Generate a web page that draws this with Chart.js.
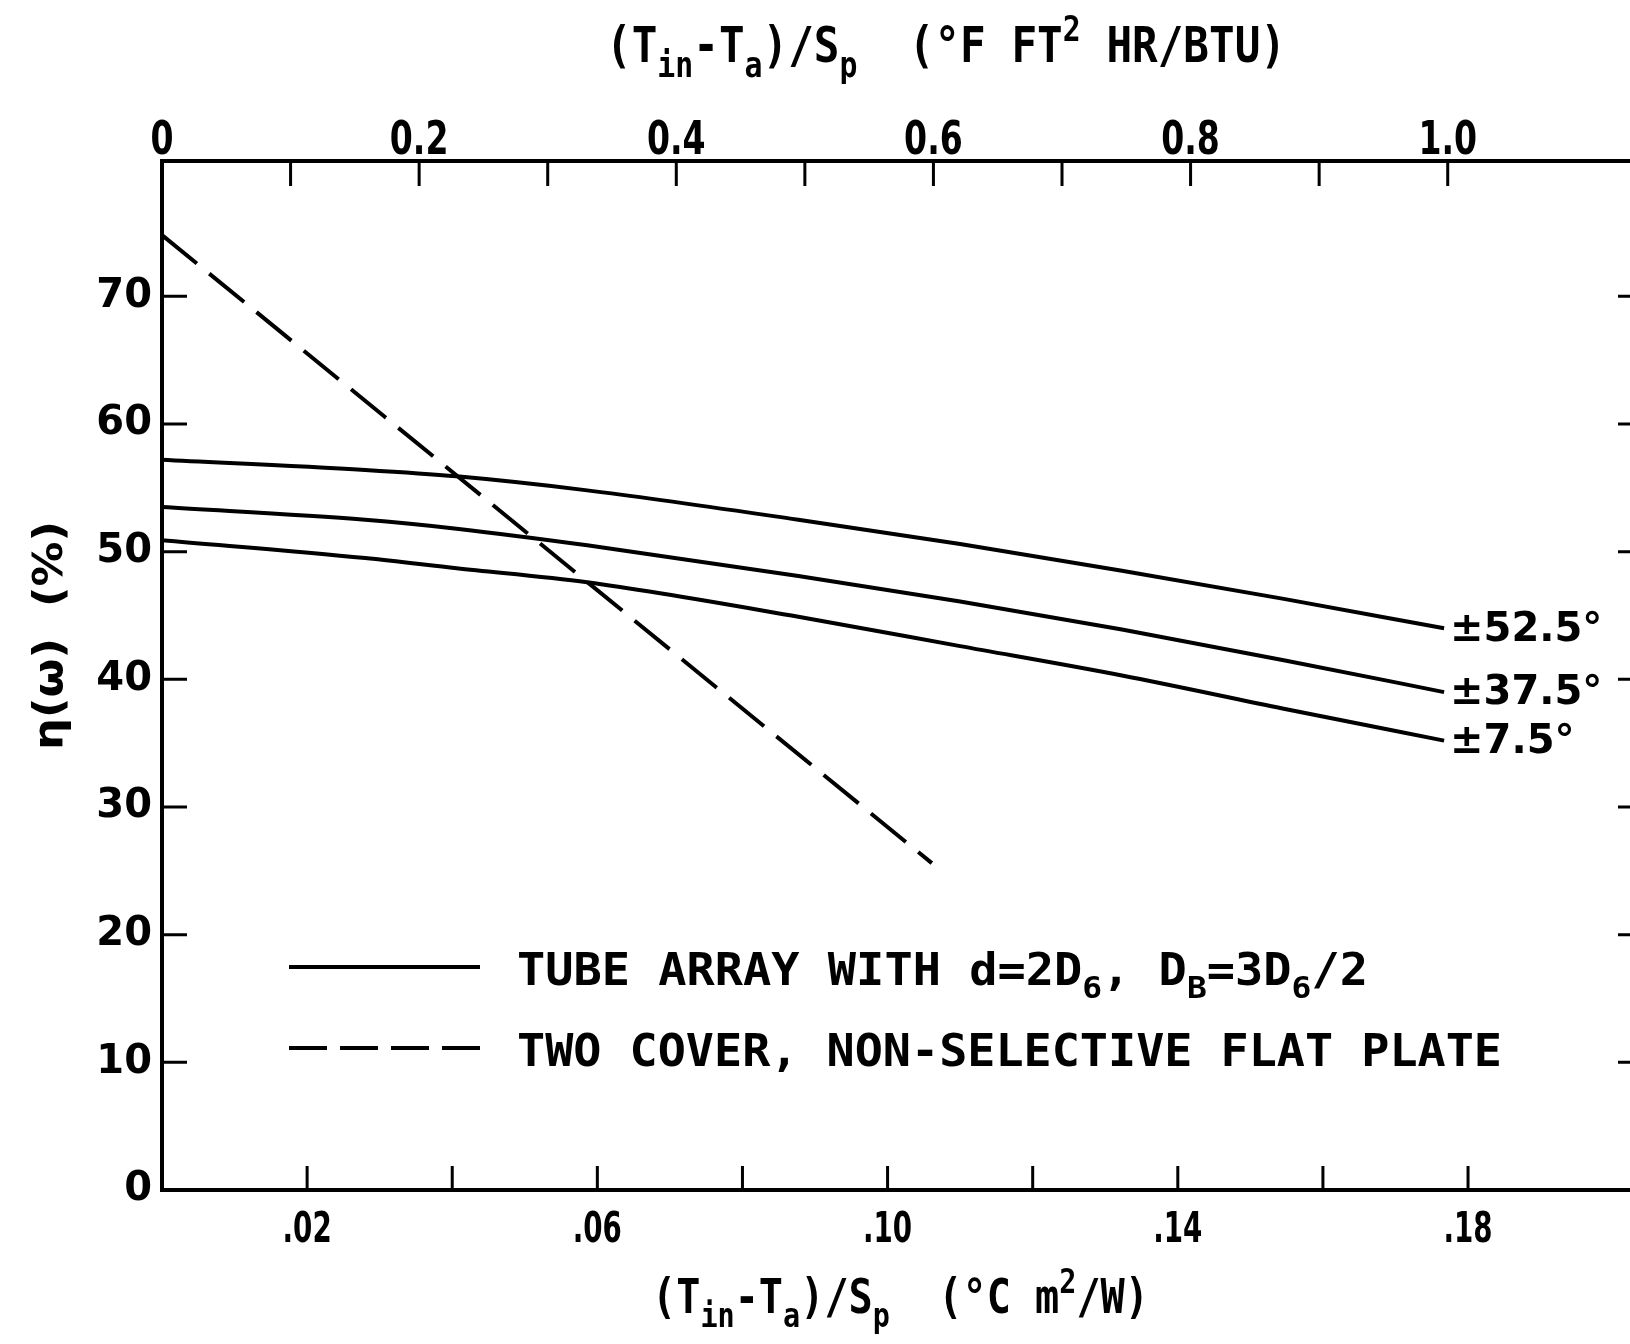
<!DOCTYPE html>
<html>
<head>
<meta charset="utf-8">
<script src="https://cdn.jsdelivr.net/npm/chart.js@4.4.0/dist/chart.umd.min.js"></script>
<style>
  html, body { margin: 0; padding: 0; background: #fff; overflow: hidden; }
  canvas { display: block; }
</style>
</head>
<body>
<canvas id="chart" width="1660" height="1344"></canvas>
<script>
// tube array curves, x in °C m²/W, y in %
const xTube = [0, 0.028, 0.0406, 0.0586, 0.0877, 0.110, 0.1323, 0.1546, 0.1767];
const eta52 = [57.2, 56.4, 55.9, 54.8, 52.5, 50.6, 48.5, 46.3, 44.0];
const eta37 = [53.5, 52.5, 51.8, 50.5, 48.1, 46.1, 43.9, 41.5, 39.0];
const eta7 = [50.9, 49.5, 48.7, 47.6, 44.9, 42.6, 40.3, 37.7, 35.2];
const curveLabels = ['±52.5°', '±37.5°', '±7.5°'];

// two cover flat plate (dashed)
const xFlat = [0, 0.1061];
const etaFlat = [74.8, 25.6];

// axes
const yTicks = [0, 10, 20, 30, 40, 50, 60, 70];
const bottomTicks = [0.02, 0.04, 0.06, 0.08, 0.10, 0.12, 0.14, 0.16, 0.18];
const bottomLabelVals = [0.02, 0.06, 0.10, 0.14, 0.18];
const bottomLabelText = ['.02', '.06', '.10', '.14', '.18'];
const topTicks = [0.1, 0.2, 0.3, 0.4, 0.5, 0.6, 0.7, 0.8, 0.9, 1.0];
const topLabelVals = [0, 0.2, 0.4, 0.6, 0.8, 1.0];
const topLabelText = ['0', '0.2', '0.4', '0.6', '0.8', '1.0'];

const X_MAX = 0.2037;
const SI_PER_IMPERIAL = 0.1772; // 1 °F ft² hr/BTU in °C m²/W (as drawn)
const Y_MAX = 80.6;

const SANS = '"DejaVu Sans", sans-serif';
const MONO = '"DejaVu Sans Mono", monospace';

// parts = [[text, kind], ...], kind '' | 'sub' | 'sup'; squeezed to width
function drawRich(ctx, parts, x, y, size, width, family) {
  const fontFor = k => 'bold ' + (k ? Math.round(size * 0.7) : size) + 'px ' + family;
  let natural = 0;
  parts.forEach(([t, k]) => { ctx.font = fontFor(k); natural += ctx.measureText(t).width; });
  const sx = width ? width / natural : 1;
  ctx.save();
  ctx.translate(x, y);
  ctx.scale(sx, 1);
  let px = 0;
  parts.forEach(([t, k]) => {
    ctx.font = fontFor(k);
    const dy = k === 'sub' ? size * 0.3 : k === 'sup' ? -size * 0.42 : 0;
    ctx.fillText(t, px, dy);
    px += ctx.measureText(t).width;
  });
  ctx.restore();
}

const overlay = {
  id: 'overlay',
  afterDraw(chart) {
    const { ctx, chartArea: a, scales } = chart;
    const xs = scales.x, xt = scales.xTop, ys = scales.y;
    ctx.save();
    ctx.strokeStyle = '#000';
    ctx.fillStyle = '#000';
    ctx.textAlign = 'left';
    ctx.textBaseline = 'alphabetic';

    // inward tick marks
    ctx.lineWidth = 3;
    ctx.beginPath();
    ys.ticks.forEach(t => {
      if (t.value === 0) return;
      const p = ys.getPixelForValue(t.value);
      ctx.moveTo(a.left, p); ctx.lineTo(a.left + 25, p);
      ctx.moveTo(a.right, p); ctx.lineTo(a.right - 22, p);
    });
    xs.ticks.forEach(t => {
      const p = xs.getPixelForValue(t.value);
      ctx.moveTo(p, a.bottom); ctx.lineTo(p, a.bottom - 24);
    });
    xt.ticks.forEach(t => {
      const p = xt.getPixelForValue(t.value);
      ctx.moveTo(p, a.top); ctx.lineTo(p, a.top + 25);
    });
    ctx.stroke();

    // x tick labels (narrow lettering)
    ctx.textAlign = 'center';
    bottomLabelVals.forEach((v, i) => {
      const p = xs.getPixelForValue(v);
      ctx.save(); ctx.translate(p, a.bottom + 52); ctx.scale(0.66, 1);
      ctx.font = 'bold 42px ' + SANS; ctx.fillText(bottomLabelText[i], 0, 0);
      ctx.restore();
    });
    topLabelVals.forEach((v, i) => {
      const p = xt.getPixelForValue(v);
      ctx.save(); ctx.translate(p, a.top - 7); ctx.scale(0.72, 1);
      ctx.font = 'bold 46px ' + SANS; ctx.fillText(topLabelText[i], 0, 0);
      ctx.restore();
    });
    ctx.textAlign = 'left';

    // axis titles
    drawRich(ctx, [['(T'], ['in', 'sub'], ['-T'], ['a', 'sub'], [')/S'], ['p', 'sub'],
      ['  (°F FT'], ['2', 'sup'], [' HR/BTU)']], 606, 62, 50, 680, MONO);
    drawRich(ctx, [['(T'], ['in', 'sub'], ['-T'], ['a', 'sub'], [')/S'], ['p', 'sub'],
      ['  (°C m'], ['2', 'sup'], ['/W)']], 652, 1313, 48, 497, MONO);
    ctx.save();
    ctx.translate(62, 750);
    ctx.rotate(-Math.PI / 2);
    drawRich(ctx, [['η(ω)  (%)']], 0, 0, 40, 229, SANS);
    ctx.restore();

    // legend
    ctx.lineWidth = 4;
    ctx.beginPath(); ctx.moveTo(289, 967); ctx.lineTo(480, 967); ctx.stroke();
    ctx.setLineDash([38, 13]);
    ctx.beginPath(); ctx.moveTo(289, 1048); ctx.lineTo(480, 1048); ctx.stroke();
    ctx.setLineDash([]);
    drawRich(ctx, [['TUBE ARRAY WITH d=2D'], ['6', 'sub'], [', D'], ['B', 'sub'],
      ['=3D'], ['6', 'sub'], ['/2']], 517, 985, 44, 851, MONO);
    drawRich(ctx, [['TWO COVER, NON-SELECTIVE FLAT PLATE']], 517, 1066, 44, 985, MONO);

    // curve end labels
    ctx.font = 'bold 40px ' + SANS;
    ctx.textBaseline = 'middle';
    chart.data.datasets.slice(0, 3).forEach((ds, i) => {
      const last = ds.data[ds.data.length - 1];
      ctx.fillText(curveLabels[i], xs.getPixelForValue(last.x) + 6, ys.getPixelForValue(last.y) + 2);
    });
    ctx.restore();
  }
};

const toPts = (xv, yv) => xv.map((x, i) => ({ x, y: yv[i] }));
const lineStyle = { borderColor: '#000', borderWidth: 4, pointRadius: 0, fill: false, cubicInterpolationMode: 'monotone' };

new Chart(document.getElementById('chart'), {
  type: 'line',
  data: {
    datasets: [
      { label: curveLabels[0], data: toPts(xTube, eta52), ...lineStyle },
      { label: curveLabels[1], data: toPts(xTube, eta37), ...lineStyle },
      { label: curveLabels[2], data: toPts(xTube, eta7), ...lineStyle },
      { label: 'flat plate', data: toPts(xFlat, etaFlat), ...lineStyle, borderDash: [45, 16] }
    ]
  },
  options: {
    responsive: false,
    animation: false,
    devicePixelRatio: 1,
    layout: { padding: { left: 0, top: 0, right: 20, bottom: 0 } },
    plugins: { legend: { display: false }, tooltip: { enabled: false } },
    scales: {
      x: {
        type: 'linear', position: 'bottom', min: 0, max: X_MAX,
        grid: { display: false, drawTicks: false },
        border: { display: true, width: 4, color: '#000' },
        ticks: { display: false },
        afterBuildTicks: s => { s.ticks = bottomTicks.map(v => ({ value: v })); },
        afterFit: s => { s.height = 154; }
      },
      xTop: {
        type: 'linear', position: 'top', min: 0, max: X_MAX / SI_PER_IMPERIAL,
        grid: { display: false, drawTicks: false },
        border: { display: true, width: 4, color: '#000' },
        ticks: { display: false },
        afterBuildTicks: s => { s.ticks = topTicks.map(v => ({ value: v })); },
        afterFit: s => { s.height = 161; }
      },
      y: {
        type: 'linear', position: 'left', min: 0, max: Y_MAX,
        grid: { display: false, drawTicks: false },
        border: { display: true, width: 4, color: '#000' },
        ticks: { color: '#000', padding: 10, font: { family: 'DejaVu Sans', size: 40, weight: 'bold' }, callback: v => String(v) },
        afterBuildTicks: s => { s.ticks = yTicks.map(v => ({ value: v })); },
        afterFit: s => { s.width = 162; }
      }
    }
  },
  plugins: [overlay]
});
</script>
</body>
</html>
